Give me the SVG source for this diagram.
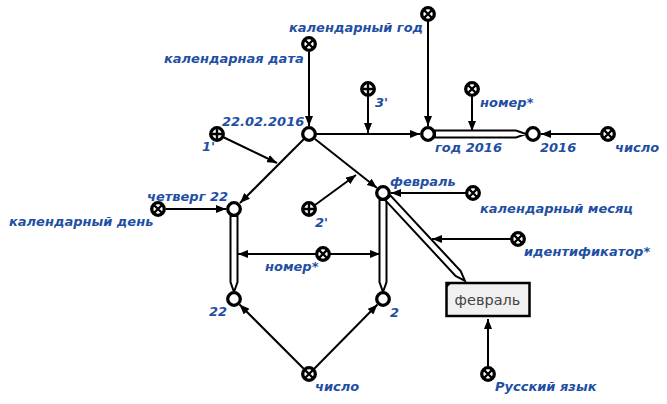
<svg xmlns="http://www.w3.org/2000/svg" width="667" height="404" viewBox="0 0 667 404">
<style>
.lbl{font-family:"DejaVu Sans",sans-serif;font-weight:bold;font-style:italic;font-size:13px;fill:#1f4fa3}
.node{fill:#fff;stroke:#000;stroke-width:3.3}
.const{fill:#fff;stroke:#000;stroke-width:3.3}
.mark{stroke:#000;stroke-width:2.4;fill:none}
.conn line{stroke:#000;stroke-width:2;fill:none;marker-end:url(#ah)}
.dbl{fill:#fff;stroke:#000;stroke-width:2;stroke-linejoin:miter}
</style>
<defs>
<marker id="ah" markerUnits="userSpaceOnUse" markerWidth="10" markerHeight="8" refX="10" refY="4" orient="auto"><path d="M0,0 L10,4 L0,8 z" fill="#000"/></marker>
<g id="cx"><circle r="6.3" class="const"/><path class="mark" d="M-4,-4 L4,4 M4,-4 L-4,4"/></g>
<g id="cp"><circle r="6.3" class="const"/><path class="mark" d="M0,-5 L0,5 M-5,0 L5,0"/></g>
</defs>
<rect width="667" height="404" fill="#fff"/>
<g id="connectors">
<g class="conn">
<line x1="309" y1="51" x2="309" y2="126"/>
<line x1="428" y1="21" x2="428" y2="126"/>
<line x1="316" y1="134" x2="420" y2="134"/>
<line x1="368" y1="96" x2="368" y2="133"/>
<line x1="601" y1="134" x2="541" y2="134"/>
<line x1="304" y1="139" x2="240" y2="203"/>
<line x1="223" y1="137" x2="277" y2="163"/>
<line x1="315" y1="139" x2="377" y2="188"/>
<line x1="315" y1="205" x2="356" y2="175"/>
<line x1="166" y1="209" x2="226" y2="209"/>
<line x1="466" y1="193" x2="391" y2="193"/>
<line x1="316" y1="254" x2="238" y2="254"/>
<line x1="330" y1="254" x2="380" y2="254"/>
<line x1="511" y1="239" x2="432" y2="239"/>
<line x1="304" y1="369" x2="239.5" y2="304.5"/>
<line x1="314" y1="369" x2="377.5" y2="304.5"/>
<line x1="488" y1="367" x2="488" y2="319"/>
</g>
<polygon class="dbl" transform="translate(435,134)" points="0,-3.5 81,-3.5 91,0 81,3.5 0,3.5"/>
<line x1="472" y1="96" x2="472" y2="131" stroke="#000" stroke-width="2" marker-end="url(#ah)"/>
<polygon class="dbl" transform="translate(234,216) rotate(90)" points="0,-3.5 66,-3.5 76,0 66,3.5 0,3.5"/>
<polygon class="dbl" transform="translate(383,200) rotate(90)" points="0,-3.5 82,-3.5 92,0 82,3.5 0,3.5"/>
<polygon class="dbl" transform="translate(388,198) rotate(47.1)" points="0,-3.5 103,-3.5 113,0 103,3.5 0,3.5"/>
</g>
<g id="n-date"><circle cx="309" cy="134" r="6.3" class="node"/><text class="lbl" x="222" y="126">22.02.2016</text></g>
<g id="n-year"><circle cx="428" cy="134" r="6.3" class="node"/><text class="lbl" x="435" y="152">год 2016</text></g>
<g id="n-2016"><circle cx="533" cy="134" r="6.3" class="node"/><text class="lbl" x="540" y="152">2016</text></g>
<g id="n-thu"><circle cx="234" cy="209" r="6.3" class="node"/><text class="lbl" x="147" y="201">четверг 22</text></g>
<g id="n-feb"><circle cx="383" cy="193" r="6.3" class="node"/><text class="lbl" x="390" y="186">февраль</text></g>
<g id="n-22"><circle cx="234" cy="299" r="6.3" class="node"/><text class="lbl" x="209" y="316">22</text></g>
<g id="n-2"><circle cx="383" cy="299" r="6.3" class="node"/><text class="lbl" x="390" y="317">2</text></g>
<g id="c-calyear"><use href="#cx" x="428" y="14"/><text class="lbl" x="289" y="32">календарный год</text></g>
<g id="c-caldate"><use href="#cx" x="309" y="44"/><text class="lbl" x="164" y="63">календарная дата</text></g>
<g id="c-3"><use href="#cp" x="368" y="89"/><text class="lbl" x="375" y="107">3'</text></g>
<g id="c-num1"><use href="#cx" x="472" y="89"/><text class="lbl" x="480" y="107">номер*</text></g>
<g id="c-chislo1"><use href="#cx" x="608" y="134"/><text class="lbl" x="615" y="152">число</text></g>
<g id="c-1"><use href="#cp" x="217" y="134"/><text class="lbl" x="202" y="151">1'</text></g>
<g id="c-calday"><use href="#cx" x="158" y="209"/><text class="lbl" x="9" y="226">календарный день</text></g>
<g id="c-2"><use href="#cp" x="309" y="209"/><text class="lbl" x="315" y="227">2'</text></g>
<g id="c-calmonth"><use href="#cx" x="473" y="193"/><text class="lbl" x="480" y="213">календарный месяц</text></g>
<g id="c-ident"><use href="#cx" x="518" y="239"/><text class="lbl" x="524" y="256">идентификатор*</text></g>
<g id="c-num2"><use href="#cx" x="323" y="254"/><text class="lbl" x="265" y="271">номер*</text></g>
<g id="c-chislo2"><use href="#cx" x="309" y="374"/><text class="lbl" x="315" y="391">число</text></g>
<g id="c-rus"><use href="#cx" x="488" y="374"/><text class="lbl" x="495" y="391">Русский язык</text></g>
<g id="box-feb">
<rect x="446.5" y="283" width="83" height="33" fill="#f0f0f0" stroke="#000" stroke-width="2.5"/>
<path d="M446,282.5 L452,282.5 L446,288.5 z" fill="#000"/>
<text x="487.5" y="305" text-anchor="middle" font-family="DejaVu Sans,sans-serif" font-size="14.5" fill="#444">февраль</text>
</g>
</svg>
